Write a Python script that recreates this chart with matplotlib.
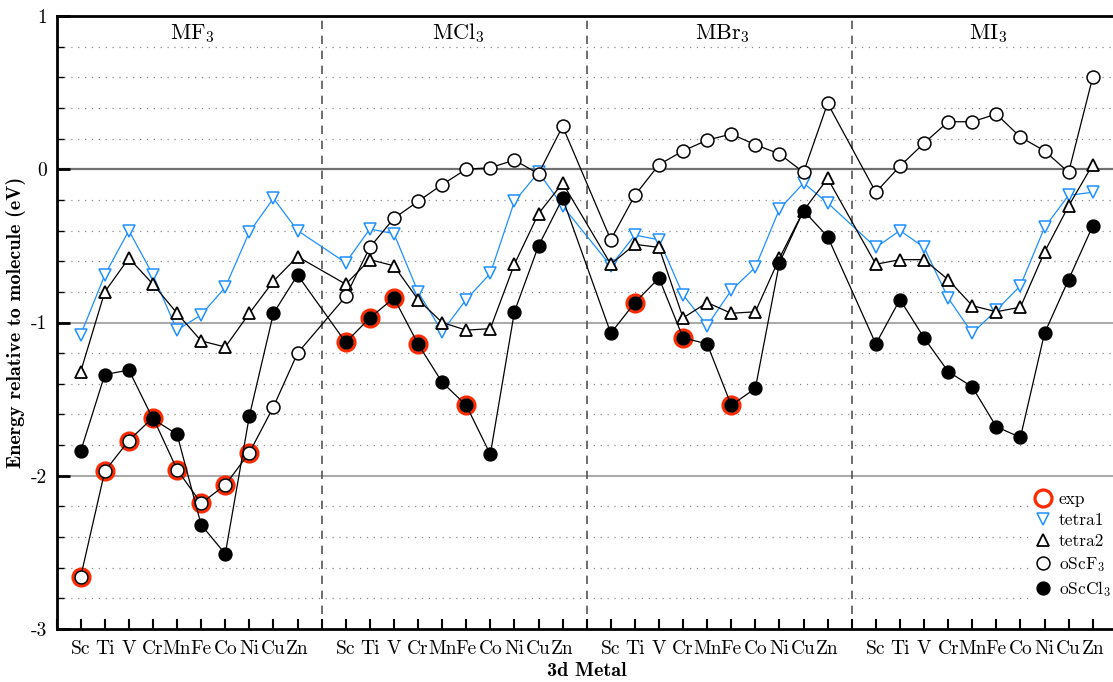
import numpy as np
import matplotlib
matplotlib.use("Agg")
import matplotlib.pyplot as plt
from matplotlib.lines import Line2D

plt.rcParams['font.family'] = ['cmr10', 'DejaVu Serif']
plt.rcParams['mathtext.fontset'] = 'cm'
plt.rcParams['axes.unicode_minus'] = False

metals = ["Sc", "Ti", "V", "Cr", "Mn", "Fe", "Co", "Ni", "Cu", "Zn"]
halides = ["MF$_3$", "MCl$_3$", "MBr$_3$", "MI$_3$"]

# energies (eV) relative to the molecule, one row of 10 metals per halide
tetra1 = [-1.08, -0.69, -0.40, -0.69, -1.05, -0.95, -0.77, -0.41, -0.19, -0.40,
          -0.61, -0.39, -0.42, -0.80, -1.06, -0.85, -0.68, -0.21, -0.02, -0.24,
          -0.63, -0.43, -0.46, -0.82, -1.02, -0.79, -0.64, -0.26, -0.09, -0.22,
          -0.51, -0.40, -0.51, -0.84, -1.07, -0.92, -0.76, -0.38, -0.17, -0.15]
tetra2 = [-1.32, -0.80, -0.58, -0.75, -0.94, -1.12, -1.16, -0.94, -0.73, -0.57,
          -0.75, -0.59, -0.63, -0.85, -1.00, -1.05, -1.04, -0.62, -0.29, -0.09,
          -0.62, -0.49, -0.51, -0.97, -0.87, -0.94, -0.93, -0.58, -0.27, -0.06,
          -0.62, -0.59, -0.59, -0.72, -0.89, -0.93, -0.90, -0.54, -0.24, 0.03]
oScF3 = [-2.66, -1.97, -1.77, -1.62, -1.96, -2.18, -2.06, -1.85, -1.55, -1.20,
         -0.83, -0.51, -0.32, -0.21, -0.10, 0.00, 0.01, 0.06, -0.03, 0.28,
         -0.46, -0.17, 0.03, 0.12, 0.19, 0.23, 0.16, 0.10, -0.02, 0.43,
         -0.15, 0.02, 0.17, 0.31, 0.31, 0.36, 0.21, 0.12, -0.02, 0.60]
oScCl3 = [-1.84, -1.34, -1.31, -1.63, -1.73, -2.32, -2.51, -1.61, -0.94, -0.69,
          -1.13, -0.97, -0.84, -1.14, -1.39, -1.54, -1.86, -0.93, -0.50, -0.19,
          -1.07, -0.87, -0.71, -1.10, -1.14, -1.54, -1.43, -0.61, -0.27, -0.44,
          -1.14, -0.85, -1.10, -1.32, -1.42, -1.68, -1.75, -1.07, -0.72, -0.37]
nan = np.nan
exp = [-2.66, -1.97, -1.77, -1.62, -1.96, -2.18, -2.06, -1.85, nan, nan,
       -1.13, -0.97, -0.84, -1.14, nan, -1.54, nan, nan, nan, nan,
       nan, -0.87, nan, -1.10, nan, -1.54, nan, nan, nan, nan,
       nan, nan, nan, nan, nan, nan, nan, nan, nan, nan]

blue = '#1f8fff'
red = '#ff2a00'

# x position: each halide block takes 11 slots, slot 0 is the separator
xpos = np.array([11 * g + i + 1 for g in range(len(halides)) for i in range(len(metals))])

fig = plt.figure(figsize=(11.13, 6.82), dpi=100)
ax = fig.add_axes([56.6 / 1113, 53 / 682, 1060.2 / 1113, 613 / 682])
ax.set_xlim(0, 44)
ax.set_ylim(-3, 1)

# grid
for y in np.arange(-2.8, 1.0, 0.2):
    if abs(y - round(y)) > 1e-6:
        ax.axhline(y, color='#8a8a8a', lw=0.9, dashes=(1, 4.5), zorder=0)
for y in [-2, -1]:
    ax.axhline(y, color='#aaaaaa', lw=1.5, zorder=0)
ax.axhline(0, color='#707070', lw=1.6, zorder=0)
for g in range(1, len(halides)):
    ax.axvline(11 * g, color='#555555', lw=1.2, dashes=(5, 4), zorder=0)

# series
ax.plot(xpos, exp, ls='none', marker='o', ms=12.2, mfc='none', mec=red, mew=2.3, zorder=2)
ax.plot(xpos, tetra1, color=blue, lw=0.9, marker='v', ms=8.6, mfc='white', mec=blue,
        mew=1.1, zorder=3)
ax.plot(xpos, tetra2, color='black', lw=0.9, marker='^', ms=8.6, mfc='white', mec='black',
        mew=1.3, zorder=4)
ax.plot(xpos, oScF3, color='black', lw=0.9, marker='o', ms=9.3, mfc='white', mec='black',
        mew=1.1, zorder=5)
ax.plot(xpos, oScCl3, color='black', lw=0.9, marker='o', ms=9.3, mfc='black', mec='black',
        mew=1.0, zorder=6)

for g, name in enumerate(halides):
    ax.text(11 * g + 5.65, 0.85, name, ha='center', va='baseline', fontsize=16)

# axes styling
xt = np.arange(0, 45)
xl = ['' if t % 11 == 0 else metals[t % 11 - 1] for t in xt]
ax.set_xticks(xt)
ax.set_xticklabels(xl, fontsize=14)
ax.set_yticks([-3, -2, -1, 0, 1])
ax.set_yticklabels(['-3', '-2', '-1', '0', '1'], fontsize=14)
ax.set_yticks(np.arange(-3, 1.01, 0.2), minor=True)
ax.tick_params(axis='x', direction='in', length=7, width=1.5, pad=8)
ax.tick_params(axis='y', which='major', direction='in', length=9, width=2, pad=7)
ax.tick_params(axis='y', which='minor', direction='in', length=5, width=1)
for s in ['left', 'bottom', 'top', 'right']:
    ax.spines[s].set_linewidth(2)

ax.set_xlabel('3d Metal', fontsize=14.5, fontfamily='cmb10', labelpad=3)
ax.set_ylabel('Energy relative to molecule (eV)', fontsize=14.5, fontfamily='cmb10',
              labelpad=3)

handles = [
    Line2D([], [], ls='none', marker='o', ms=12.2, mfc='none', mec=red, mew=2.3),
    Line2D([], [], ls='none', marker='v', ms=8.6, mfc='white', mec=blue, mew=1.1),
    Line2D([], [], ls='none', marker='^', ms=8.6, mfc='white', mec='black', mew=1.3),
    Line2D([], [], ls='none', marker='o', ms=9.3, mfc='white', mec='black', mew=1.1),
    Line2D([], [], ls='none', marker='o', ms=9.3, mfc='black', mec='black', mew=1.0),
]
labels = ['exp', 'tetra1', 'tetra2', 'oScF$_3$', 'oScCl$_3$']
leg = ax.legend(handles, labels, loc='lower left', bbox_to_anchor=((1029 - 56.6) / 1060.2, 0.04),
                frameon=True, fontsize=12.5, handlelength=1.0, handletextpad=0.4,
                labelspacing=0.33, borderpad=0.3, borderaxespad=0)
leg.get_frame().set_facecolor('white')
leg.get_frame().set_edgecolor('none')
leg.get_frame().set_alpha(1)

fig.savefig('out.png', dpi=100)
